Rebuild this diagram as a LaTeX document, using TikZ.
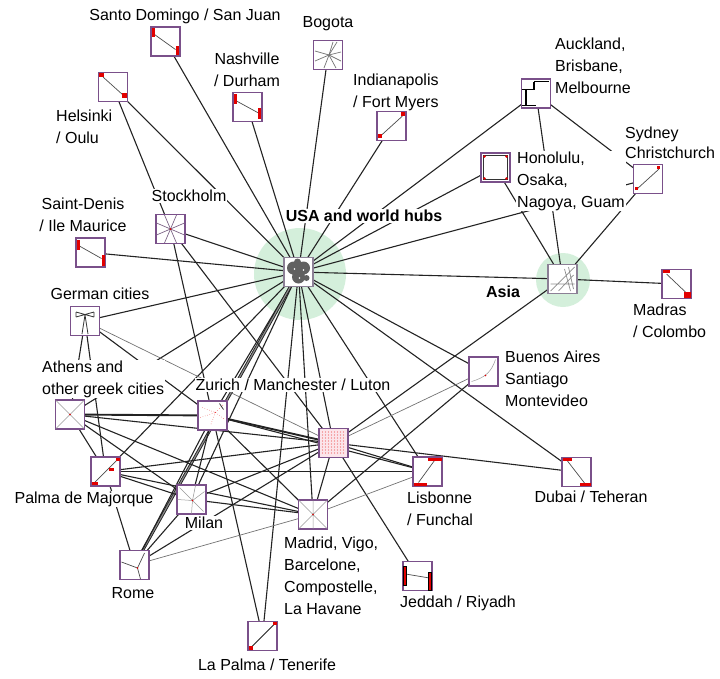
\documentclass[tikz,border=0pt]{standalone}
\usepackage{fontspec}
\setmainfont{Liberation Sans}
\pgfdeclarelayer{bg}
\pgfdeclarelayer{edges}
\pgfsetlayers{bg,edges,main}
\definecolor{boxc}{RGB}{122,80,138}
\definecolor{hubc}{RGB}{140,128,150}
\definecolor{hubg}{RGB}{212,239,219}
\definecolor{pinkf}{RGB}{252,228,234}
\definecolor{edgec}{RGB}{35,35,35}
\definecolor{redm}{RGB}{226,0,0}
\tikzset{
  box/.style={draw=boxc, line width=1.5pt, fill=white, minimum size=29pt, inner sep=0pt, outer sep=0pt},
  hubbox/.style={box, draw=hubc},
  lbl/.style={fill=white, inner sep=1pt, font=\fontsize{16}{22}\selectfont, align=center},
  lbll/.style={lbl, align=left, anchor=west},
  blbl/.style={lbl, font=\fontsize{16}{22}\selectfont\bfseries},
  edge/.style={draw=edgec, line width=1.1pt},
  thinedge/.style={draw=black!55, line width=0.7pt},
  dbledge/.style={draw=edgec, line width=0.9pt, double=black!45, double distance=1.1pt},
  thickedge/.style={draw=edgec, line width=1.9pt},
  inner/.style={draw=black!70, line width=0.7pt},
  faint/.style={draw=black!40, line width=0.5pt},
}
\begin{document}
\begin{tikzpicture}[x=1pt,y=-1pt]
\useasboundingbox (0,0) rectangle (720,678);
% hub circles
\begin{pgfonlayer}{bg}
\fill[hubg] (300,274) circle (46);
\fill[hubg] (563,280) circle (27);
\end{pgfonlayer}
% boxes
\node[box] (sd)  at (165.5,41.5) {};
\node[box] (bog) at (328,55) {};
\node[box] (hel) at (113,87) {};
\node[box] (nas) at (247.5,107) {};
\node[box] (ind) at (391.5,126) {};
\node[box] (auc) at (536,93.5) {};
\node[box] (hon) at (495.5,167.5) {};
\node[box] (syd) at (648,179) {};
\node[hubbox] (asia) at (562.5,279) {};
\node[box] (mad) at (676.5,284) {};
\node[hubbox] (usa) at (298.5,272) {};
\node[box] (sto) at (170.5,229) {};
\node[box] (std) at (90.5,252.5) {};
\node[box] (ger) at (85,321) {};
\node[box] (ath) at (70,414.5) {};
\node[box] (zur) at (212.5,415.5) {};
\node[box, fill=pinkf] (pnk) at (333.5,443) {};
\node[box] (pal) at (105.5,471.5) {};
\node[box] (mil) at (191.5,499.5) {};
\node[box] (mdr) at (313,514.5) {};
\node[box] (rom) at (134.5,565) {};
\node[box] (lpa) at (262.5,636) {};
\node[box] (bue) at (483.5,371.5) {};
\node[box] (lis) at (427.5,471.5) {};
\node[box] (dub) at (576.5,472) {};
\node[box] (jed) at (417.5,576) {};
% edges
\begin{pgfonlayer}{edges}
\foreach \t in {sd,bog,hel,nas,ind,auc,hon,syd,asia,sto,std,ger,ath,pal,zur,mil,lpa,mdr,pnk,lis,dub,bue}
  \draw[edge] (usa) -- (\t);
\draw[dbledge] (usa) -- (rom);
\draw[edge] (hel) -- (sto);
\draw[edge] (sto) -- (zur);
\draw[edge] (sto) -- (pnk);
\draw[edge] (ger) -- (ath);
\draw[edge] (ger) -- (pal);
\draw[edge] (ger) -- (zur);
\draw[thinedge] (ger) -- (pnk);
\draw[thickedge] (ath) -- (zur);
\draw[edge] (ath) -- (pal);
\draw[edge] (ath) -- (mil);
\draw[edge] (ath) -- (pnk);
\draw[edge] (ath) -- (mdr);
\draw[edge] (pal) -- (rom);
\draw[edge] (pal) -- (pnk);
\draw[edge] (pal) -- (mdr);
\draw[edge] (pal) -- (lis);
\draw[edge] (pal) -- (mil);
\draw[thickedge] (zur) -- (pnk);
\draw[edge] (zur) -- (lis);
\draw[edge] (zur) -- (mdr);
\draw[edge] (zur) -- (rom);
\draw[edge] (zur) -- (mil);
\draw[edge] (zur) -- (lpa);
\draw[edge] (mil) -- (pnk);
\draw[edge] (mil) -- (mdr);
\draw[edge] (mil) -- (rom);
\draw[edge] (rom) -- (pnk);
\draw[thinedge] (rom) -- (mdr);
\draw[edge] (pnk) -- (mdr);
\draw[edge] (pnk) -- (lis);
\draw[edge] (pnk) -- (dub);
\draw[edge] (pnk) -- (jed);
\draw[edge] (pnk) -- (asia);
\draw[thinedge] (pnk) -- (bue);
\draw[edge] (mdr) -- (bue);
\draw[thinedge] (mdr) -- (lis);
\draw[edge] (asia) -- (auc);
\draw[edge] (asia) -- (hon);
\draw[edge] (asia) -- (syd);
\draw[edge] (asia) -- (mad);
\draw[edge] (auc) -- (syd);
\end{pgfonlayer}
% box contents
\begin{scope}[shift={(165.5,41.5)}]
  \draw[inner] (-11,-7) -- (10,8);
  \fill[redm] (-14,-14) rectangle (-11,-5); \fill[redm] (10,4) rectangle (13,13);
\end{scope}
\begin{scope}[shift={(113,87)}]
  \draw[inner] (-10,-10) -- (10,8);
  \fill[redm] (-14,-14) rectangle (-9,-10); \fill[redm] (9,6) rectangle (14,11);
\end{scope}
\begin{scope}[shift={(247.5,107)}]
  \draw[inner] (-11,-6) -- (11,6);
  \fill[redm] (-14,-13) rectangle (-11,-3); \fill[redm] (10,1) rectangle (13,12);
\end{scope}
\begin{scope}[shift={(391.5,126)}]
  \draw[inner] (-11,10) -- (11,-10);
  \fill[redm] (9,-14) rectangle (13,-10); \fill[redm] (-14,8) rectangle (-10,12);
\end{scope}
\begin{scope}[shift={(328,55)}]
  \foreach \p in {(-13,-4),(9,-13),(13,6),(-4,13),(-13,6),(5,-13),(13,-3),(8,13)}
    \draw[inner, draw=black!55] (1,0) -- \p;
\end{scope}
\begin{scope}[shift={(536,93.5)}]
  \draw[black, line width=1.8pt] (-2,-12) -- (13,-12) (-2,-12) -- (-2,-4) (-14,-4) -- (-2,-4) (-10,-4) -- (-10,12) (-14,12) -- (0,12);
\end{scope}
\begin{scope}[shift={(495.5,167.5)}]
  \draw[black!80, line width=1.4pt] (-12,-12) rectangle (12,12);
  \foreach \p in {(-11,-11),(11,-11),(-11,11),(11,11)} \fill[redm] \p circle (1.3);
\end{scope}
\begin{scope}[shift={(648,179)}]
  \draw[inner] (-11,10) -- (11,-10);
  \fill[redm] (9,-13) rectangle (12,-10); \fill[redm] (-13,8) rectangle (-10,11);
\end{scope}
\begin{scope}[shift={(676.5,284)}]
  \draw[inner] (-10,-10) -- (10,9);
  \fill[redm] (-14,-14) rectangle (-7,-11); \fill[redm] (7,8) rectangle (14,14);
\end{scope}
\begin{scope}[shift={(170.5,229)}]
  \foreach \p in {(-14,-6),(-14,6),(-6,-14),(6,-14),(14,-6),(14,6),(-6,14),(6,14)}
    \draw[inner, draw=boxc!60!gray] (0,0) -- \p;
  \fill[redm] (0,0) circle (1);
\end{scope}
\begin{scope}[shift={(90.5,252.5)}]
  \draw[inner] (-12,-7) -- (11,6);
  \fill[redm] (-14,-13) rectangle (-11,-3); \fill[redm] (11,2) rectangle (14,13);
\end{scope}
\begin{scope}[shift={(85,321)}]
  \draw[black!80, line width=0.8pt] (-9,-9) -- (9,-4) (-9,-4) -- (9,-9) (-9,-9) -- (-9,-4) (9,-9) -- (9,-4) (0,-6) -- (-3,13) (0,-6) -- (3,13);
\end{scope}
\begin{scope}[shift={(70,414.5)}]
  \draw[faint] (-14,-14) -- (14,14) (-14,14) -- (14,-14);
  \fill[redm] (0,0) circle (0.8);
\end{scope}
\begin{scope}[shift={(212.5,415.5)}]
  \draw[redm, line width=0.4pt, dotted] (-10,-8) -- (3,-3) -- (11,-11) (3,-3) -- (-2,10) (3,-3) -- (12,4) (-12,2) -- (3,-3);
  \draw[black!80, line width=0.8pt] (7,-12) -- (11,-6);
\end{scope}
\begin{scope}[shift={(333.5,443)}]
  \foreach \i in {-11,-8,...,11} \foreach \j in {-11,-8,...,11}
    \fill[redm!60] (\i,\j) circle (0.6);
\end{scope}
\begin{scope}[shift={(105.5,471.5)}]
  \draw[inner] (-12,12) -- (12,-12);
  \fill[redm] (10,-14) rectangle (14,-11); \fill[redm] (3,-4) rectangle (8,-1); \fill[redm] (-14,10) rectangle (-8,13);
\end{scope}
\begin{scope}[shift={(191.5,499.5)}]
  \foreach \p in {(-14,0),(-12,-12),(13,-8),(12,12),(0,14),(4,-14)}
    \draw[faint] (1,1) -- \p;
  \fill[redm] (1,1) circle (0.8);
\end{scope}
\begin{scope}[shift={(313,514.5)}]
  \draw[faint] (-14,-14) -- (14,14) (-14,14) -- (14,-14) (0,-14) -- (0,14);
  \fill[redm] (0,0) circle (0.8);
\end{scope}
\begin{scope}[shift={(134.5,565)}]
  \draw[inner] (3,3) -- (-13,-3) (3,3) -- (10,-12) (3,3) -- (6,14);
  \fill[redm] (3,3) circle (0.8);
\end{scope}
\begin{scope}[shift={(262.5,636)}]
  \draw[edgec, line width=0.9pt] (-12,12) -- (12,-12);
  \fill[redm] (-14,10) rectangle (-10,14); \fill[redm] (10,-14) rectangle (14,-11);
\end{scope}
\begin{scope}[shift={(483.5,371.5)}]
  \draw[faint] (-12,10) .. controls (2,6) and (8,0) .. (12,-12);
  \fill[redm] (2,4) circle (0.8);
\end{scope}
\begin{scope}[shift={(427.5,471.5)}]
  \draw[inner] (-9,11) -- (7,-11);
  \fill[redm] (0,-14) rectangle (14,-11); \fill[redm] (-14,11) rectangle (-1,14);
\end{scope}
\begin{scope}[shift={(576.5,472)}]
  \draw[inner] (-9,-11) -- (8,11);
  \fill[redm] (-14,-14) rectangle (-5,-11); \fill[redm] (3,11) rectangle (14,14);
\end{scope}
\begin{scope}[shift={(417.5,576)}]
  \draw[inner] (-12,-2) -- (12,2);
  \filldraw[fill=redm, draw=black, line width=0.4pt] (-14,-10) rectangle (-11,9) (11,-4) rectangle (14,14);
\end{scope}
\begin{scope}[shift={(298.5,272)}]
  \fill[black!62] (-5,-4) circle (6.5) (5,-4) circle (6.5) (0,5) circle (6.5) (-1,-10) circle (3.5) (8,6) circle (3);
  \fill[white] (-4,-3) circle (0.9) (5,-2) circle (0.9) (1,6) circle (0.9);
\end{scope}
\begin{scope}[shift={(562.5,279)}]
  \draw[black!45, line width=0.7pt] (-12,12) -- (12,-12) (2,-10) -- (8,12) (-4,12) -- (11,-4) (6,-12) -- (11,10) (-12,5) -- (12,5);
\end{scope}
% labels
\node[lbl] (lsd) at (185,16) {Santo Domingo / San Juan};
\node[lbl] (lbog) at (328,24) {Bogota};
\node[lbl] (lnas) at (247,70) {Nashville\\/ Durham};
\node[lbll] (lhel) at (55,127) {Helsinki\\/ Oulu};
\node[lbll] (lind) at (352,92) {Indianapolis\\/ Fort Myers};
\node[lbll] (lauc) at (554,66) {Auckland,\\Brisbane,\\Melbourne};
\node[lbll] (lhon) at (516,181) {Honolulu,\\Osaka,\\Nagoya, Guam};
\node[lbll, text depth=0pt] (lsyd) at (624,143) {Sydney\\[-2pt]Christchurch};
\node[blbl] (lusa) at (364,216) {USA and world hubs};
\node[blbl] (lasia) at (503,292) {Asia};
\node[lbll] (lmad) at (632,321) {Madras\\/ Colombo};
\node[lbl] (lsto) at (189,196) {Stockholm};
\node[lbl] (lstd) at (83,215) {Saint-Denis\\/ Ile Maurice};
\node[lbl] (lger) at (100,294) {German cities};
\node[lbll] (lath) at (41,379) {Athens and\\other greek cities};
\node[lbl] (lzur) at (293,385) {Zurich / Manchester / Luton};
\node[lbl] (lpal) at (84,499) {Palma de Majorque};
\node[lbl] (lmil) at (204,523) {Milan};
\node[lbll] (lmdr) at (283,576) {Madrid, Vigo,\\Barcelone,\\Compostelle,\\La Havane};
\node[lbl] (lrom) at (133,593) {Rome};
\node[lbl] (llpa) at (267,665) {La Palma / Tenerife};
\node[lbll] (lbue) at (504,379) {Buenos Aires\\Santiago\\Montevideo};
\node[lbll] (llis) at (406,509) {Lisbonne\\/ Funchal};
\node[lbl] (ldub) at (591,497) {Dubai / Teheran};
\node[lbl] (ljed) at (458,603) {Jeddah / Riyadh};
\end{tikzpicture}
\end{document}
